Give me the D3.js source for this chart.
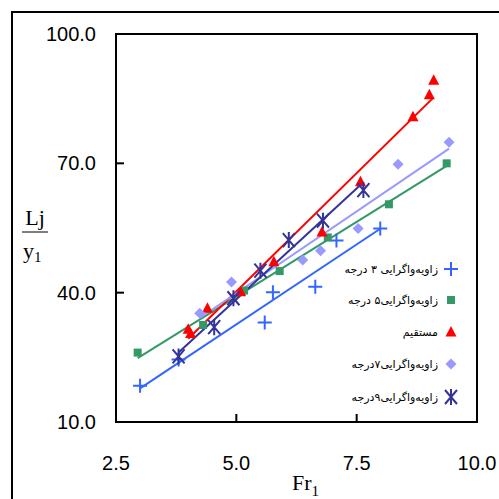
<!DOCTYPE html>
<html>
<head>
<meta charset="utf-8">
<script src="https://cdn.jsdelivr.net/npm/d3@7"></script>
<style>
body{margin:0;background:#fff;}
svg text{fill:#000;}
</style>
</head>
<body>
<svg id="chart" width="499" height="499"></svg>
<script>
// data
var xTicks = [2.5, 5.0, 7.5, 10.0];
var yTicks = [10.0, 40.0, 70.0, 100.0];

var names = ["زاویه‌واگرایی ۳ درجه", "زاویه‌واگرایی۵ درجه", "مستقیم", "زاویه‌واگرایی۷درجه", "زاویه‌واگرایی۹درجه"];
var colors = ["#3366ff", "#339966", "#ff0000", "#9999ff", "#333399"];
var shapes = ["plus", "square", "triangle", "diamond", "star"];

var deg3X = [3.0, 3.8, 5.59, 5.76, 6.64, 7.08, 7.99];
var deg3Y = [18.4, 24.5, 33.1, 40.1, 41.4, 52.1, 54.9];
var deg5X = [2.95, 4.31, 5.16, 5.9, 6.9, 8.17, 9.37];
var deg5Y = [26.1, 32.5, 40.5, 45.0, 52.8, 60.5, 70.0];
var straightX = [4.0, 4.05, 4.4, 5.09, 5.78, 6.78, 7.58, 8.67, 9.01, 9.1];
var straightY = [31.5, 30.5, 36.4, 40.2, 47.2, 54.1, 65.7, 80.8, 85.9, 89.3];
var deg7X = [4.24, 4.9, 6.38, 6.75, 7.53, 8.36, 9.42];
var deg7Y = [35.2, 42.5, 47.6, 49.7, 54.9, 69.8, 74.9];
var deg9X = [3.8, 4.54, 4.94, 5.5, 6.09, 6.8, 7.64];
var deg9Y = [25.2, 32.0, 38.7, 45.1, 52.2, 56.7, 63.8];

var seriesX = [deg3X, deg5X, straightX, deg7X, deg9X];
var seriesY = [deg3Y, deg5Y, straightY, deg7Y, deg9Y];

var svg = d3.select("#chart");
var pLeft = 116, pRight = 477, pTop = 34, pBottom = 422;

var x = d3.scaleLinear().domain([2.5, 10]).range([pLeft, pRight]);
var y = d3.scaleLinear().domain([10, 100]).range([pBottom, pTop]);

// outer frame
svg.append("rect").attr("x", 12).attr("y", 12).attr("width", 520).attr("height", 520)
	.attr("fill", "none").attr("stroke", "#000").attr("stroke-width", 2);

// linear fit like excel trendline
function fit(xs, ys){
	var n = xs.length, mx = d3.mean(xs), my = d3.mean(ys);
	var sxy = 0, sxx = 0;
	for(var i = 0; i < n; i++){
		sxy += (xs[i]-mx)*(ys[i]-my);
		sxx += (xs[i]-mx)*(xs[i]-mx);
	}
	var b = sxy/sxx;
	return {b:b, a:my - b*mx};
}

var plot = svg.append("g");

// trend lines
seriesX.forEach(function(xs, i){
	var f = fit(xs, seriesY[i]);
	var x0 = d3.min(xs), x1 = d3.max(xs);
	plot.append("line")
		.attr("x1", x(x0)).attr("y1", y(f.a + f.b*x0))
		.attr("x2", x(x1)).attr("y2", y(f.a + f.b*x1))
		.attr("stroke", colors[i]).attr("stroke-width", 2);
});

function marker(g, shape, color){
	if(shape == "plus"){
		g.append("path").attr("d", "M-7,0H7M0,-7V7").attr("stroke", color).attr("stroke-width", 2).attr("fill", "none");
	}
	else if(shape == "square"){
		g.append("rect").attr("x", -4).attr("y", -4).attr("width", 8).attr("height", 8).attr("fill", color);
	}
	else if(shape == "triangle"){
		g.append("path").attr("d", "M0,-6L5.5,4.5H-5.5Z").attr("fill", color);
	}
	else if(shape == "diamond"){
		g.append("path").attr("d", "M0,-5.5L5.5,0L0,5.5L-5.5,0Z").attr("fill", color);
	}
	else if(shape == "star"){
		g.append("path").attr("d", "M-6,-7L6,7M-6,7L6,-7M0,-8V8").attr("stroke", color).attr("stroke-width", 2).attr("fill", "none");
	}
}

// points
seriesX.forEach(function(xs, i){
	xs.forEach(function(v, j){
		var g = plot.append("g").attr("transform", "translate(" + x(v) + "," + y(seriesY[i][j]) + ")");
		marker(g, shapes[i], colors[i]);
	});
});

// plot frame
svg.append("rect").attr("x", pLeft).attr("y", pTop).attr("width", pRight-pLeft).attr("height", pBottom-pTop)
	.attr("fill", "none").attr("stroke", "#000").attr("stroke-width", 2);

// ticks inside
svg.selectAll(".xt").data(xTicks).enter().append("line")
	.attr("x1", function(d){return x(d);}).attr("x2", function(d){return x(d);})
	.attr("y1", pBottom).attr("y2", pBottom-8).attr("stroke", "#000").attr("stroke-width", 2);
svg.selectAll(".yt").data(yTicks).enter().append("line")
	.attr("y1", function(d){return y(d);}).attr("y2", function(d){return y(d);})
	.attr("x1", pLeft).attr("x2", pLeft+8).attr("stroke", "#000").attr("stroke-width", 2);

svg.selectAll(".xl").data(xTicks).enter().append("text")
	.attr("x", function(d){return x(d);}).attr("y", 470)
	.attr("text-anchor", "middle").attr("font-family", "Liberation Sans, Arial").attr("font-size", 20)
	.text(function(d){return d3.format(".1f")(d);});
svg.selectAll(".yl").data(yTicks).enter().append("text")
	.attr("x", 96).attr("y", function(d){return y(d) + 7;})
	.attr("text-anchor", "end").attr("font-family", "Liberation Sans, Arial").attr("font-size", 20)
	.text(function(d){return d3.format(".1f")(d);});

// axis titles
var serif = "Liberation Serif, Times New Roman";
svg.append("text").attr("x", 35).attr("y", 225).attr("text-anchor", "middle")
	.attr("font-family", serif).attr("font-size", 22).text("Lj");
svg.append("line").attr("x1", 22).attr("x2", 48).attr("y1", 232).attr("y2", 232)
	.attr("stroke", "#555").attr("stroke-width", 1.5);
var yt = svg.append("text").attr("x", 23).attr("y", 258).attr("font-family", serif).attr("font-size", 22);
yt.append("tspan").text("y");
yt.append("tspan").attr("font-size", 15).attr("dy", 4).text("1");

var xt = svg.append("text").attr("x", 292).attr("y", 490).attr("font-family", serif).attr("font-size", 22);
xt.append("tspan").text("Fr");
xt.append("tspan").attr("font-size", 15).attr("dy", 6).text("1");

// legend
var legY = [269, 300, 332, 364, 397];
names.forEach(function(nm, i){
	var g = svg.append("g").attr("transform", "translate(451," + legY[i] + ")");
	marker(g, shapes[i], colors[i]);
	svg.append("text").attr("x", 438).attr("y", legY[i] + 4).attr("text-anchor", "end")
		.attr("font-family", "DejaVu Sans").attr("font-size", 11)
		.attr("fill", "#222").text(nm);
});
</script>
</body>
</html>
